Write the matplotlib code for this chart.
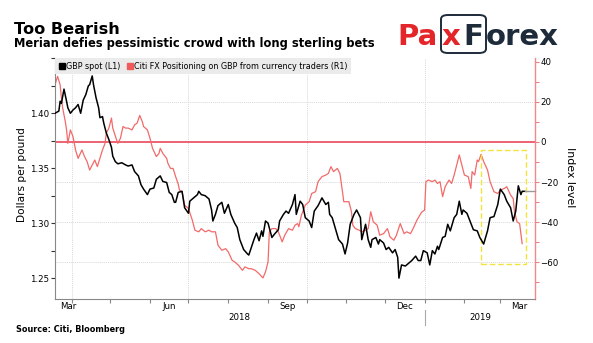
import matplotlib
matplotlib.use("Agg")
import numpy as np
import pandas as pd
import matplotlib.pyplot as plt
from matplotlib.lines import Line2D
from matplotlib.patches import Rectangle, FancyBboxPatch
import matplotlib.transforms as mtransforms

# series are stored as day offsets from the first date on the chart
start = pd.Timestamp("2018-03-19")
end = pd.Timestamp("2019-03-28")

gbp_day = [0, 3, 4, 5, 7, 9, 10, 12, 14, 16, 18, 20, 22, 24, 26, 27, 29, 30, 32, 34,
           35, 37, 38, 40, 42, 44, 45, 47, 49, 52, 55, 57, 60, 62, 65, 67, 69, 72, 74, 77,
           79, 82, 84, 87, 89, 91, 93, 94, 96, 99, 101, 104, 105, 108, 111, 112, 114, 117, 120, 122,
           123, 125, 127, 130, 132, 135, 137, 140, 142, 144, 147, 150, 151, 153, 155, 157, 159, 161, 162, 164,
           166, 169, 171, 174, 175, 178, 180, 182, 185, 187, 188, 191, 193, 195, 198, 200, 202, 205, 208, 211,
           213, 214, 216, 218, 221, 224, 226, 228, 230, 233, 235, 238, 239, 242, 244, 246, 247, 250, 252, 253,
           256, 258, 260, 263, 265, 267, 268, 270, 273, 276, 278, 281, 283, 285, 287, 290, 292, 294, 296, 298,
           299, 302, 304, 306, 308, 311, 313, 315, 317, 318, 321, 324, 326, 329, 331, 334, 337, 339, 342, 345,
           347, 350, 352, 355, 357, 359, 361, 363, 364, 366]
gbp_spot = [1.400, 1.402, 1.411, 1.409, 1.422, 1.411, 1.405, 1.400, 1.403, 1.405, 1.408, 1.400, 1.412, 1.417, 1.425, 1.426, 1.434, 1.426, 1.414, 1.405,
            1.396, 1.397, 1.391, 1.382, 1.376, 1.369, 1.361, 1.356, 1.354, 1.355, 1.353, 1.352, 1.353, 1.347, 1.343, 1.335, 1.331, 1.326, 1.331, 1.332,
            1.340, 1.343, 1.338, 1.337, 1.328, 1.326, 1.319, 1.319, 1.328, 1.329, 1.314, 1.309, 1.320, 1.323, 1.326, 1.329, 1.326, 1.325, 1.322, 1.312,
            1.302, 1.308, 1.316, 1.319, 1.309, 1.317, 1.308, 1.300, 1.296, 1.285, 1.276, 1.272, 1.271, 1.278, 1.285, 1.291, 1.284, 1.293, 1.288, 1.302,
            1.300, 1.287, 1.290, 1.294, 1.302, 1.308, 1.311, 1.309, 1.317, 1.326, 1.308, 1.320, 1.317, 1.305, 1.302, 1.296, 1.311, 1.316, 1.323, 1.317,
            1.319, 1.308, 1.305, 1.297, 1.285, 1.281, 1.272, 1.282, 1.299, 1.308, 1.312, 1.305, 1.285, 1.299, 1.285, 1.278, 1.285, 1.287, 1.281, 1.285,
            1.282, 1.276, 1.278, 1.273, 1.276, 1.269, 1.250, 1.262, 1.261, 1.264, 1.266, 1.270, 1.266, 1.266, 1.275, 1.273, 1.262, 1.275, 1.272, 1.279,
            1.276, 1.287, 1.288, 1.299, 1.293, 1.305, 1.308, 1.320, 1.308, 1.312, 1.309, 1.300, 1.294, 1.293, 1.287, 1.281, 1.293, 1.305, 1.306, 1.317,
            1.331, 1.326, 1.320, 1.314, 1.302, 1.311, 1.334, 1.326, 1.329, 1.329]

citi_day = [0, 2, 4, 5, 6, 8, 9, 10, 12, 14, 16, 18, 21, 23, 25, 27, 29, 31, 33, 35,
            37, 39, 40, 42, 44, 45, 48, 49, 51, 53, 55, 57, 60, 62, 64, 66, 68, 69, 72, 74,
            76, 79, 81, 82, 84, 87, 88, 90, 92, 94, 96, 97, 99, 101, 104, 107, 109, 112, 114, 117,
            120, 122, 125, 127, 130, 133, 135, 138, 140, 143, 146, 148, 151, 153, 156, 159, 162, 164, 166, 167,
            169, 172, 174, 177, 179, 182, 185, 187, 189, 190, 192, 195, 198, 200, 203, 205, 208, 211, 213, 215,
            217, 220, 222, 224, 225, 228, 229, 231, 232, 234, 237, 239, 242, 244, 246, 248, 251, 253, 256, 259,
            261, 264, 266, 269, 272, 274, 277, 279, 282, 285, 286, 288, 289, 291, 294, 296, 298, 300, 302, 304,
            307, 309, 311, 313, 315, 317, 319, 322, 324, 325, 327, 329, 330, 332, 334, 337, 339, 342, 345, 347,
            350, 352, 355, 357, 358, 360, 362, 364]
citi_index = [28.5, 32.7, 28.5, 21.9, 16.9, 10.2, 6.0, -0.7, 6.0, 2.7, -4.0, -8.2, -4.0, -7.3, -9.8, -14.0, -11.5, -9.0, -12.3, -8.2,
              -4.0, -0.7, 4.4, 6.9, 11.9, 6.9, 1.0, -0.7, 1.9, 7.7, 6.9, 6.9, 6.0, 8.5, 9.4, 13.2, 10.2, 7.7, 6.0, 1.9,
              -3.2, -7.3, -5.7, -3.2, -5.7, -8.2, -10.7, -13.2, -13.2, -17.3, -21.0, -24.0, -24.8, -31.5, -33.2, -39.0, -44.0, -44.8, -43.2, -44.8,
              -44.0, -44.8, -44.8, -51.5, -54.0, -53.2, -54.8, -59.0, -59.8, -61.5, -64.0, -62.3, -63.2, -63.2, -64.0, -65.7, -67.8, -64.8, -59.8, -44.8,
              -43.2, -43.2, -44.8, -49.8, -46.5, -43.2, -44.0, -41.5, -40.7, -42.3, -36.5, -31.5, -29.8, -25.7, -24.8, -19.8, -17.3, -16.5, -15.7, -12.3,
              -14.8, -13.2, -15.7, -24.8, -29.8, -29.8, -29.8, -34.8, -41.5, -43.2, -44.0, -44.8, -44.0, -43.2, -34.8, -39.8, -41.5, -46.5, -45.7, -43.2,
              -47.3, -49.0, -46.5, -40.7, -45.7, -44.8, -45.7, -43.2, -39.0, -35.7, -34.8, -34.0, -19.8, -19.0, -19.8, -19.0, -20.7, -19.8, -27.3, -22.3,
              -19.0, -20.7, -16.5, -11.5, -6.5, -11.5, -16.5, -17.3, -23.2, -14.8, -16.5, -9.0, -9.8, -6.2, -9.8, -14.0, -19.8, -24.8, -25.7, -24.0,
              -23.2, -22.3, -26.5, -28.2, -34.8, -39.8, -40.7, -50.7]

# highlighted window and its index range
box_start, box_end = pd.Timestamp("2019-02-14"), pd.Timestamp("2019-03-21")
box_low, box_high = -61, -4

RED = "#f26a6a"
ZERO_RED = "#e8384f"
GRID = "#d9d9d9"
SMALL = 6.2

gbp_dates = start + pd.to_timedelta(gbp_day, unit="D")
citi_dates = start + pd.to_timedelta(citi_day, unit="D")

fig = plt.figure(figsize=(5.93, 3.43), dpi=100)
ax = fig.add_axes([55 / 593, 1 - 299 / 343, 480 / 593, 241 / 343])
ax2 = ax.twinx()
ax.set_zorder(ax2.get_zorder() + 1)
ax.patch.set_visible(False)

ax.set_xlim(start, end)
ax.set_ylim(1.231, 1.4503)
ax2.set_ylim(-78.3, 41.85)

# grid follows the right-hand scale
for v in [20, -20, -40, -60]:
    ax2.axhline(v, color=GRID, lw=0.7, ls=(0, (1, 1)), zorder=0)
for q in pd.date_range("2018-04-01", "2019-01-01", freq="QS"):
    ax2.axvline(q, color=GRID, lw=0.7, ls=(0, (1, 1)), zorder=0)
ax2.axhline(0, color=ZERO_RED, lw=1.1, zorder=1)

ax2.plot(citi_dates, citi_index, color=RED, lw=0.9, zorder=2)
ax.plot(gbp_dates, gbp_spot, color="black", lw=1.1, zorder=3)

# last value marker
last_date = gbp_dates[-1]
ax.plot([last_date, end], [gbp_spot[-1], gbp_spot[-1]], color="#9a9a9a", lw=1.0, clip_on=False, zorder=3)

ax2.add_patch(Rectangle((box_start, box_low), box_end - box_start, box_high - box_low,
                        fill=False, ec="#f3e43c", lw=1.0, ls=(0, (4, 2)), zorder=4))

# left axis
ax.set_yticks([1.25, 1.30, 1.35, 1.40])
ax.set_yticks(np.arange(1.25, 1.451, 0.025), minor=True)
ax.tick_params(axis="y", which="both", length=3, width=0.8, color="#333333", labelsize=SMALL, pad=1)
ax.spines["top"].set_visible(False)
ax.spines["right"].set_visible(False)
ax.spines["left"].set_color("#888888")
ax.spines["bottom"].set_color("#888888")
ax.spines["left"].set_linewidth(0.8)
ax.spines["bottom"].set_linewidth(0.8)

# right axis
ax2.set_yticks([40, 20, 0, -20, -40, -60])
ax2.set_yticks(np.arange(-70, 41, 10), minor=True)
ax2.tick_params(axis="y", which="both", length=3, width=0.8, color="#f08080", labelsize=SMALL, pad=1)
for s in ["top", "left", "bottom"]:
    ax2.spines[s].set_visible(False)
ax2.spines["right"].set_color("#f08a8a")
ax2.spines["right"].set_linewidth(1.0)

# x axis: ticks at month starts, labels mid-month
month_starts = pd.date_range("2018-04-01", "2019-03-01", freq="MS")
ax.set_xticks(month_starts)
ax.set_xticklabels([])
ax.tick_params(axis="x", which="major", length=3, width=0.8, color="#888888")
ax2.tick_params(axis="x", which="both", length=0, labelbottom=False)

xtrans = mtransforms.blended_transform_factory(ax.transData, ax.transAxes)
month_names = ["Mar", "Jun", "Sep", "Dec", "Mar"]
month_pos = [start + pd.Timedelta(days=10)] + [pd.Timestamp(d) + pd.Timedelta(days=15)
                                               for d in ["2018-06-01", "2018-09-01", "2018-12-01", "2019-03-01"]]
for name, pos in zip(month_names, month_pos):
    ax.text(pos, -0.032, name, transform=xtrans, ha="center", va="center", fontsize=SMALL)

year_split = pd.Timestamp("2019-01-01")
ax.text(start + (year_split - start) / 2, -0.078, "2018", transform=xtrans,
        ha="center", va="center", fontsize=SMALL)
ax.text(year_split + (end - year_split) / 2, -0.078, "2019", transform=xtrans,
        ha="center", va="center", fontsize=SMALL)
ax.plot([year_split, year_split], [-0.046, -0.108], transform=xtrans, color="#aaaaaa",
        lw=0.8, clip_on=False)

# legend
handles = [Line2D([], [], marker="s", ls="none", color="black", markersize=4.5),
           Line2D([], [], marker="s", ls="none", color="#f05a5a", markersize=4.5)]
leg = ax.legend(handles, ["GBP spot (L1)", "Citi FX Positioning on GBP from currency traders (R1)"],
                loc="upper left", bbox_to_anchor=(0.0, 1.0), ncol=2, fontsize=5.8, frameon=True,
                fancybox=False, borderaxespad=0, borderpad=0.45, handletextpad=0.05,
                columnspacing=0.7, handlelength=0.9)
leg.get_frame().set_facecolor("#ebebeb")
leg.get_frame().set_edgecolor("none")
leg.get_frame().set_alpha(1)
leg.set_zorder(10)

# axis titles
fig.text(22 / 593, 1 - 175 / 343, "Dollars per pound", rotation=90, ha="center", va="center", fontsize=7.6)
fig.text(570 / 593, 1 - 177 / 343, "Index level", rotation=270, ha="center", va="center", fontsize=7.9)

# headings and source
fig.text(14 / 593, 1 - 29 / 343, "Too Bearish", fontsize=11.6, fontweight="bold", va="center")
fig.text(14 / 593, 1 - 43 / 343, "Merian defies pessimistic crowd with long sterling bets",
         fontsize=8.3, fontweight="bold", va="center")
fig.text(16 / 593, 1 - 329 / 343, "Source: Citi, Bloomberg", fontsize=5.85, fontweight="bold", va="center")

# PaxForex logo
LOGO_RED = "#e4262b"
LOGO_NAVY = "#1d2b3a"
fig.patches.append(FancyBboxPatch((441 / 593, 1 - 53 / 343), 45 / 593, 38 / 343,
                                  boxstyle="round,pad=0,rounding_size=0.012", fill=False,
                                  ec=LOGO_NAVY, lw=1.4, transform=fig.transFigure, figure=fig))
logo_y = 1 - 45 / 343
fig.text(397 / 593, logo_y, "Pa", color=LOGO_RED, fontsize=21, fontweight="bold", va="baseline")
fig.text(442 / 593, logo_y, "x", color=LOGO_RED, fontsize=21, fontweight="bold", va="baseline")
fig.text(463 / 593, logo_y, "F", color=LOGO_NAVY, fontsize=21, fontweight="bold", va="baseline")
fig.text(486 / 593, logo_y, "orex", color=LOGO_NAVY, fontsize=21, fontweight="bold", va="baseline")

fig.savefig("out.png", dpi=100)
